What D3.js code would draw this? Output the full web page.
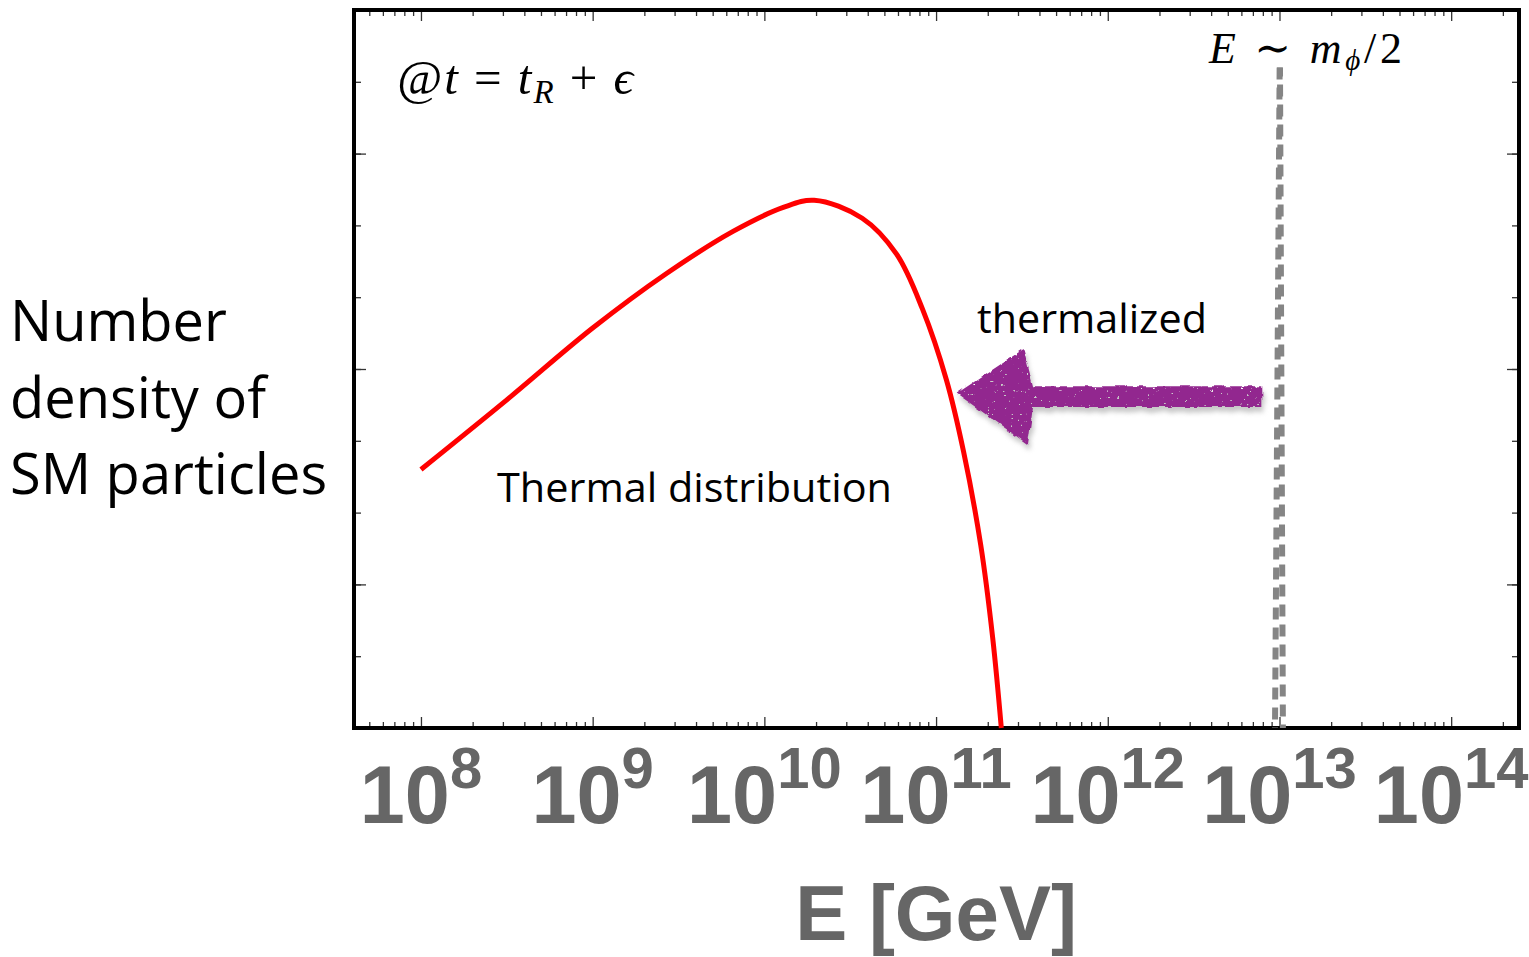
<!DOCTYPE html>
<html>
<head>
<meta charset="utf-8">
<script src="https://cdn.jsdelivr.net/npm/d3@7"></script>
<style>
  body { margin: 0; background: #fff; }
  svg { display: block; }
</style>
</head>
<body>
<div id="chart"></div>
<script>
// thermal spectrum: log10(E/GeV) and height (arbitrary units, 0..10)
const curveLogE = [8.00, 8.50, 9.00, 9.43, 9.82, 10.11, 10.29, 10.57, 10.77, 10.92, 11.06, 11.16, 11.26, 11.33, 11.38];
const curveY    = [3.60, 4.57, 5.57, 6.33, 6.92, 7.25, 7.35, 7.10, 6.60, 5.84, 4.85, 3.85, 2.55, 1.25, 0.00];

// E ~ m_phi/2 marker, drawn as two slightly diverging dashed strokes
const markerTopLogE = [13.001, 13.003];
const markerBottomLogE = [12.974, 13.020];
const markerTopY = 9.2;

// hand-drawn arrow outline (log10 E, y)
const arrowLogE = [11.12, 11.51, 11.565, 12.90, 12.90, 11.565, 11.535];
const arrowY    = [4.66, 5.28, 4.76, 4.76, 4.47, 4.47, 3.95];

const decades = [8, 9, 10, 11, 12, 13, 14];
const yTicks = [1, 2, 3, 4, 5, 6, 7, 8, 9];
const yMajorTicks = [2, 5, 8];

const W = 1529, H = 957;
const margin = { top: 10, right: 10, bottom: 229, left: 354 };
const width = W - margin.left - margin.right;
const height = H - margin.top - margin.bottom;

const svg = d3.select("#chart").append("svg")
    .attr("width", W)
    .attr("height", H);

// rough "marker pen" look for the arrow
const defs = svg.append("defs");
const rough = defs.append("filter")
    .attr("id", "rough")
    .attr("color-interpolation-filters", "sRGB")
    .attr("x", "-10%").attr("y", "-40%")
    .attr("width", "120%").attr("height", "180%");
rough.append("feTurbulence")
    .attr("type", "fractalNoise")
    .attr("baseFrequency", 0.1)
    .attr("numOctaves", 2)
    .attr("seed", 4)
    .attr("result", "noise");
rough.append("feDisplacementMap")
    .attr("in", "SourceGraphic")
    .attr("in2", "noise")
    .attr("scale", 5)
    .attr("xChannelSelector", "R")
    .attr("yChannelSelector", "G")
    .attr("result", "disp");
rough.append("feTurbulence")
    .attr("type", "fractalNoise")
    .attr("baseFrequency", 0.3)
    .attr("numOctaves", 2)
    .attr("seed", 11)
    .attr("result", "noise2");
rough.append("feColorMatrix")
    .attr("in", "noise2")
    .attr("type", "matrix")
    .attr("values", "0 0 0 0 0  0 0 0 0 0  0 0 0 0 0  -18 0 0 0 14")
    .attr("result", "holes");
rough.append("feComposite")
    .attr("in", "disp")
    .attr("in2", "holes")
    .attr("operator", "in")
    .attr("result", "tex");
rough.append("feGaussianBlur")
    .attr("in", "disp")
    .attr("stdDeviation", 2.5)
    .attr("result", "blur");
rough.append("feOffset")
    .attr("in", "blur")
    .attr("dx", 2).attr("dy", 5)
    .attr("result", "off");
rough.append("feColorMatrix")
    .attr("in", "off")
    .attr("type", "matrix")
    .attr("values", "0 0 0 0 0.45  0 0 0 0 0.45  0 0 0 0 0.45  0 0 0 0.4 0")
    .attr("result", "shadow");
const merge = rough.append("feMerge");
merge.append("feMergeNode").attr("in", "shadow");
merge.append("feMergeNode").attr("in", "tex");

const g = svg.append("g")
    .attr("transform", `translate(${margin.left},${margin.top})`);

const x = d3.scaleLog()
    .domain([Math.pow(10, 7.61), Math.pow(10, 14.395)])
    .range([0, width]);
const y = d3.scaleLinear()
    .domain([0, 10])
    .range([height, 0]);

const majorVals = decades.map(d => Math.pow(10, d));
const minorVals = [];
for (let k = 7; k <= 14; k++) {
    for (let m = 2; m <= 9; m++) {
        const v = m * Math.pow(10, k);
        if (v > x.domain()[0] && v < x.domain()[1]) minorVals.push(v);
    }
}

// ticks (pointing into the frame)
function styleAxis(sel) {
    sel.select(".domain").remove();
    sel.selectAll(".tick line").attr("stroke", "#333").attr("stroke-width", 1.3);
    sel.selectAll("text").remove();
}
g.append("g").attr("transform", `translate(0,${height})`)
    .call(d3.axisBottom(x).tickValues(majorVals).tickSize(-11)).call(styleAxis);
g.append("g").attr("transform", `translate(0,${height})`)
    .call(d3.axisBottom(x).tickValues(minorVals).tickSize(-6)).call(styleAxis);
g.append("g")
    .call(d3.axisTop(x).tickValues(majorVals).tickSize(-11)).call(styleAxis);
g.append("g")
    .call(d3.axisTop(x).tickValues(minorVals).tickSize(-6)).call(styleAxis);
g.append("g")
    .call(d3.axisLeft(y).tickValues(yTicks).tickSize(-7)).call(styleAxis);
g.append("g")
    .call(d3.axisLeft(y).tickValues(yMajorTicks).tickSize(-12)).call(styleAxis);
g.append("g").attr("transform", `translate(${width},0)`)
    .call(d3.axisRight(y).tickValues(yTicks).tickSize(-7)).call(styleAxis);
g.append("g").attr("transform", `translate(${width},0)`)
    .call(d3.axisRight(y).tickValues(yMajorTicks).tickSize(-12)).call(styleAxis);

// frame
g.append("rect")
    .attr("width", width)
    .attr("height", height)
    .attr("fill", "none")
    .attr("stroke", "#000")
    .attr("stroke-width", 4);

// tick labels 10^n
const labels = g.append("g")
    .attr("font-family", "'Liberation Sans', Arial, sans-serif")
    .attr("font-weight", "bold")
    .attr("fill", "#666");
decades.forEach(d => {
    const t = labels.append("text")
        .attr("x", x(Math.pow(10, d)))
        .attr("y", height + 95)
        .attr("text-anchor", "middle");
    t.append("tspan").attr("font-size", 81).text("10");
    t.append("tspan").attr("font-size", 58).attr("dy", -35).text(d);
});

// axis title
g.append("text")
    .attr("x", x(Math.pow(10, 11)))
    .attr("y", height + 212)
    .attr("text-anchor", "middle")
    .attr("font-family", "'Liberation Sans', Arial, sans-serif")
    .attr("font-weight", "bold")
    .attr("font-size", 78)
    .attr("fill", "#666")
    .text("E [GeV]");

// y label
const ylab = svg.append("text")
    .attr("font-family", "'Open Sans', sans-serif")
    .attr("font-size", 56)
    .attr("fill", "#000");
["Number", "density of", "SM particles"].forEach((s, i) => {
    ylab.append("tspan").attr("x", 10).attr("y", 341 + i * 76.5).text(s);
});

// dashed marker line
const markLine = d3.line().x(d => x(Math.pow(10, d[0]))).y(d => y(d[1]));
[0, 1].forEach(i => {
    g.append("path")
        .attr("d", markLine([[markerTopLogE[i], markerTopY], [markerBottomLogE[i], 0]]))
        .attr("stroke", "#858585")
        .attr("stroke-width", 6)
        .attr("stroke-dasharray", "12,8")
        .attr("stroke-dashoffset", i * 3)
        .attr("fill", "none");
});

// thermal curve
const curve = d3.line()
    .x((d, i) => x(Math.pow(10, curveLogE[i])))
    .y((d, i) => y(curveY[i]))
    .curve(d3.curveCatmullRom.alpha(0.5));
g.append("path")
    .attr("d", curve(curveLogE))
    .attr("fill", "none")
    .attr("stroke", "#ff0000")
    .attr("stroke-width", 5);

// arrow
const arrowPts = arrowLogE.map((e, i) => [x(Math.pow(10, e)), y(arrowY[i])]);
g.append("path")
    .attr("d", d3.line().curve(d3.curveLinearClosed)(arrowPts))
    .attr("fill", "#92278f")
    .attr("filter", "url(#rough)");

// annotations
const sans = "'Open Sans', sans-serif";
g.append("text")
    .attr("x", x(Math.pow(10, 8.443)))
    .attr("y", y(3.15))
    .attr("font-family", sans)
    .attr("font-size", 40)
    .attr("textLength", 395)
    .attr("lengthAdjust", "spacingAndGlyphs")
    .text("Thermal distribution");
g.append("text")
    .attr("x", x(Math.pow(10, 11.238)))
    .attr("y", y(5.50))
    .attr("font-family", sans)
    .attr("font-size", 40)
    .attr("textLength", 230)
    .attr("lengthAdjust", "spacingAndGlyphs")
    .text("thermalized");

const serif = "'Liberation Serif', 'DejaVu Serif', serif";
const eq1 = g.append("text")
    .attr("x", x(Math.pow(10, 7.862)))
    .attr("y", y(8.83))
    .attr("font-family", serif)
    .attr("font-size", 49)
    .attr("textLength", 236)
    .attr("lengthAdjust", "spacing");
eq1.append("tspan").text("@");
eq1.append("tspan").attr("font-style", "italic").text("t");
eq1.append("tspan").text(" = ");
eq1.append("tspan").attr("font-style", "italic").text("t");
eq1.append("tspan").attr("font-style", "italic").attr("font-size", 33).attr("dy", 9).text("R");
eq1.append("tspan").attr("dy", -9).text(" + ");
eq1.append("tspan").attr("font-style", "italic").text("ϵ");

const eq2 = g.append("text")
    .attr("x", x(Math.pow(10, 12.589)))
    .attr("y", y(9.26))
    .attr("font-family", serif)
    .attr("font-size", 44)
    .attr("textLength", 193)
    .attr("lengthAdjust", "spacing");
eq2.append("tspan").attr("font-style", "italic").text("E");
eq2.append("tspan").text(" ∼ ");
eq2.append("tspan").attr("font-style", "italic").text("m");
eq2.append("tspan").attr("font-style", "italic").attr("font-size", 29).attr("dy", 7).text("ϕ");
eq2.append("tspan").attr("dy", -7).text("/2");
</script>
</body>
</html>
